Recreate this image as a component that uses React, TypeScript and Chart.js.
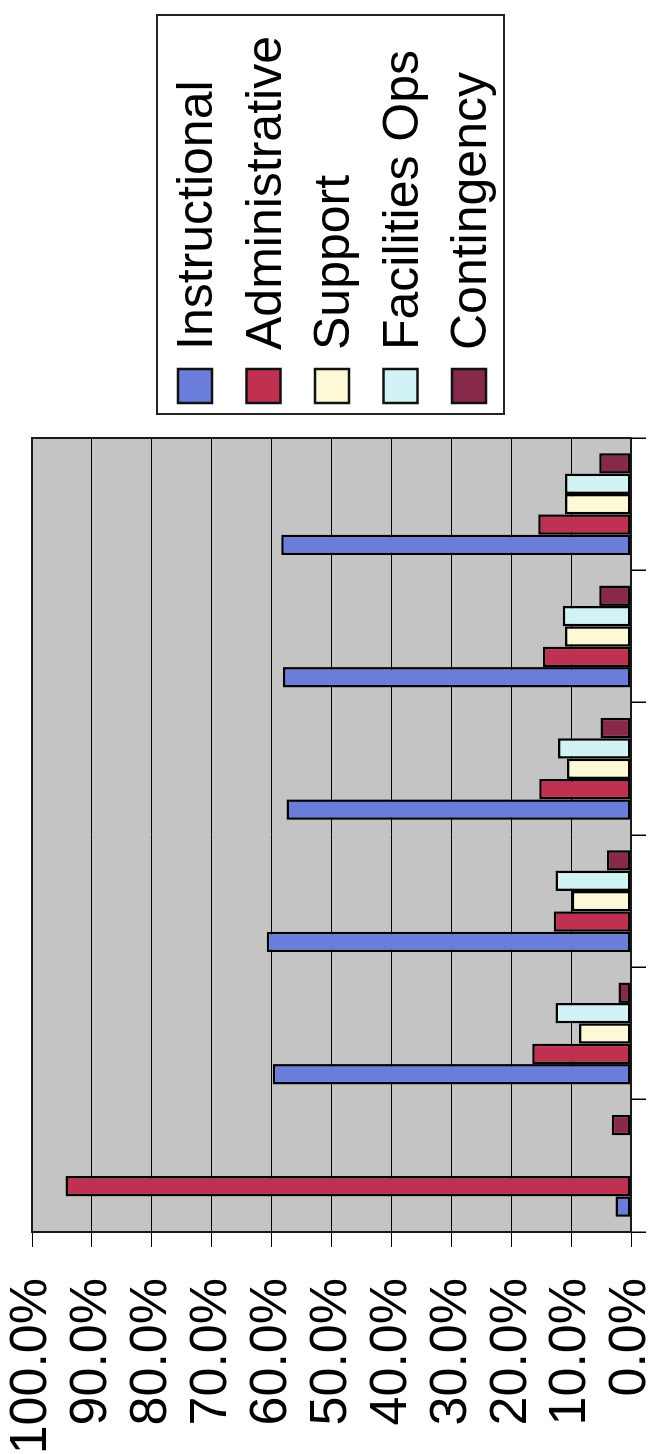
import React, { useEffect, useRef } from 'react';
import { Chart, registerables } from 'chart.js';

Chart.register(...registerables);

// ---- data ----
const categories = ['Group 1', 'Group 2', 'Group 3', 'Group 4', 'Group 5', 'Group 6'];
const seriesNames = ['Instructional', 'Administrative', 'Support', 'Facilities Ops', 'Contingency'];
const instructional = [2.6, 59.8, 60.8, 57.5, 58.1, 58.4];
const administrative = [94.4, 16.5, 12.9, 15.3, 14.7, 15.5];
const support = [0, 8.7, 9.9, 10.7, 11.0, 11.0];
const facilitiesOps = [0, 12.6, 12.6, 12.2, 11.4, 11.0];
const contingency = [3.2, 2.1, 4.0, 5.1, 5.3, 5.3];
const valueTickLabels = ['0.0%', '10.0%', '20.0%', '30.0%', '40.0%', '50.0%', '60.0%', '70.0%', '80.0%', '90.0%', '100.0%'];

// ---- styles ----
const seriesColors = ['#6a7ddb', '#c03050', '#fdf8d6', '#d2f3f5', '#86294a'];
const PLOT_BG = '#c4c4c4';
const FONT = '"Liberation Sans", Arial, Helvetica, sans-serif';

const W = 1454; // chart drawn un-rotated, then turned -90deg by CSS
const H = 652;

const plotFrame = {
  id: 'plotFrame',
  beforeDraw(chart: any) {
    const { ctx, chartArea: a } = chart;
    ctx.save();
    ctx.fillStyle = PLOT_BG;
    ctx.fillRect(a.left, a.top, a.right - a.left, a.bottom - a.top);
    ctx.restore();
  },
  afterDatasetsDraw(chart: any) {
    const { ctx, chartArea: a } = chart;
    ctx.save();
    ctx.strokeStyle = '#1a1a1a';
    ctx.lineWidth = 2;
    ctx.strokeRect(a.left, a.top, a.right - a.left, a.bottom - a.top);
    ctx.restore();
  },
};

const boxLegend = {
  id: 'boxLegend',
  afterDraw(chart: any) {
    const ctx = chart.ctx;
    const box = { x: 1040, y: 157, w: 399, h: 347 };
    const firstBaseline = 212;
    const step = 68.5;
    const sw = 34;
    const swX = 1051;
    const textX = 1104;
    ctx.save();
    ctx.strokeStyle = '#222';
    ctx.lineWidth = 2;
    ctx.strokeRect(box.x, box.y, box.w, box.h);
    ctx.font = `50px ${FONT}`;
    ctx.textBaseline = 'alphabetic';
    ctx.textAlign = 'left';
    chart.data.datasets.forEach((ds: any, i: number) => {
      const base = firstBaseline + i * step;
      ctx.fillStyle = ds.backgroundColor;
      ctx.fillRect(swX, base - sw, sw, sw);
      ctx.lineWidth = 2.5;
      ctx.strokeStyle = '#111';
      ctx.strokeRect(swX, base - sw, sw, sw);
      ctx.fillStyle = '#000';
      ctx.fillText(ds.label, textX, base);
    });
    ctx.restore();
  },
};

export default function App() {
  const ref = useRef<HTMLCanvasElement>(null);

  useEffect(() => {
    const values = [instructional, administrative, support, facilitiesOps, contingency];
    const chart = new Chart(ref.current as HTMLCanvasElement, {
      type: 'bar',
      data: {
        labels: categories,
        datasets: seriesNames.map((name, i) => ({
          label: name,
          data: values[i],
          backgroundColor: seriesColors[i],
          borderColor: '#000',
          borderWidth: 2.5,
          borderSkipped: false,
          categoryPercentage: 0.77,
          barPercentage: 1,
        })),
      },
      options: {
        animation: false,
        responsive: false,
        devicePixelRatio: 1,
        layout: { padding: { top: 32, right: 438, bottom: 0, left: 0 } },
        plugins: {
          legend: { display: false },
          tooltip: { enabled: false },
        },
        scales: {
          x: {
            type: 'category',
            offset: true,
            grid: {
              offset: true,
              drawOnChartArea: false,
              drawTicks: true,
              tickLength: 15,
              color: '#000',
              lineWidth: 1.5,
            },
            border: { display: true, color: '#000', width: 2 },
            ticks: { display: false },
            afterFit(s: any) {
              s.height = 21;
              s.paddingLeft = 0;
              s.paddingRight = 0;
            },
          },
          y: {
            min: 0,
            max: 100,
            ticks: {
              stepSize: 10,
              autoSkip: false,
              padding: 31,
              color: '#000',
              font: { family: FONT, size: 52 },
              callback: (_v: any, i: number) => valueTickLabels[i],
            },
            grid: { color: '#000', lineWidth: 1, tickLength: 15 },
            border: { display: true, color: '#000', width: 2 },
            afterFit(s: any) {
              s.width = 222;
              s.paddingTop = 0;
              s.paddingBottom = 0;
            },
          },
        },
      },
      plugins: [plotFrame, boxLegend],
    } as any);
    return () => chart.destroy();
  }, []);

  return (
    <div
      style={{
        position: 'absolute',
        left: 0,
        top: 0,
        width: 652,
        height: 1454,
        overflow: 'hidden',
        background: '#fff',
      }}
    >
      <div
        style={{
          position: 'absolute',
          left: 0,
          top: 0,
          width: W,
          height: H,
          transformOrigin: '0 0',
          transform: `translate(0px, ${W}px) rotate(-90deg)`,
        }}
      >
        <canvas ref={ref} width={W} height={H} style={{ display: 'block' }} />
      </div>
    </div>
  );
}
